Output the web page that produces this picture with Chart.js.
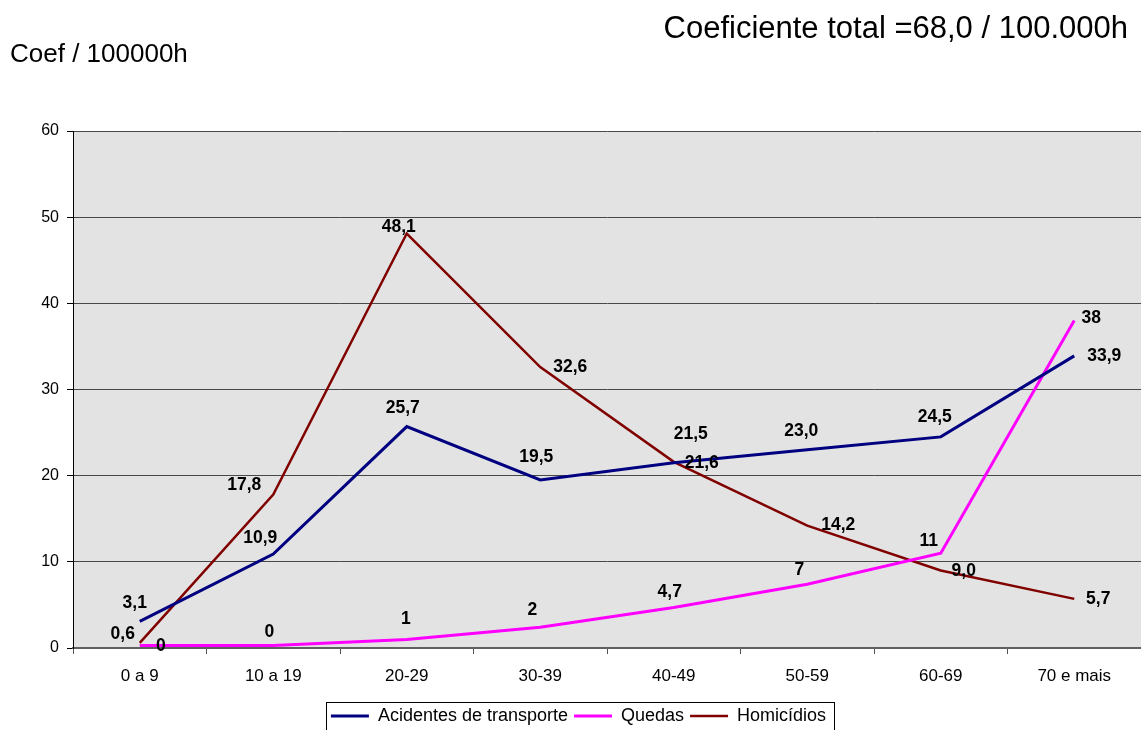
<!DOCTYPE html>
<html>
<head>
<meta charset="utf-8">
<script src="https://cdn.jsdelivr.net/npm/chart.js@4.4.1/dist/chart.umd.min.js"></script>
<style>
  html, body { margin: 0; padding: 0; overflow: hidden; background: #fff; }
  #wrap { width: 1141px; height: 735px; }
</style>
</head>
<body>
<div id="wrap"><canvas id="chart" width="1141" height="735"></canvas></div>
<script>
// data
const categories = ['0 a 9', '10 a 19', '20-29', '30-39', '40-49', '50-59', '60-69', '70 e mais'];
const acidentes = [3.1, 10.9, 25.7, 19.5, 21.5, 23.0, 24.5, 33.9];
const quedas = [0.3, 0.3, 1.0, 2.4, 4.7, 7.4, 11.0, 38.0];
const homicidios = [0.6, 17.8, 48.1, 32.6, 21.6, 14.2, 9.0, 5.7];

// value labels as printed on the chart
const acidentesLabels = ['3,1', '10,9', '25,7', '19,5', '21,5', '23,0', '24,5', '33,9'];
const quedasLabels = ['0', '0', '1', '2', '4,7', '7', '11', '38'];
const homicidiosLabels = ['0,6', '17,8', '48,1', '32,6', '21,6', '14,2', '9,0', '5,7'];

const titleText = 'Coeficiente total =68,0 / 100.000h';
const unitText = 'Coef / 100000h';

// label placement (pixel offsets from the point), style only
const acidentesOffsets = [[-5,-18],[-13,-16],[-4,-18],[-4,-23],[17,-29],[-6,-19],[-6,-20],[30,0]];
const quedasOffsets = [[21,1],[-4,-13],[-1,-20],[-8,-17],[-4,-15],[-8,-14],[-12,-12],[17,-2]];
const homicidiosOffsets = [[-17,-9],[-29,-9],[-8,-6],[30,0],[28,1],[31,0],[23,1],[24,0]];

const FONT = "'Liberation Sans', Arial, Helvetica, sans-serif";
Chart.defaults.font.family = FONT;
Chart.defaults.color = '#000';

const plotBackground = {
  id: 'plotBackground',
  beforeDraw(chart) {
    const { ctx, chartArea: a } = chart;
    ctx.save();
    ctx.fillStyle = '#e3e3e3';
    ctx.fillRect(a.left, a.top, a.right - a.left, a.bottom - a.top);
    ctx.restore();
  }
};

const valueLabels = {
  id: 'valueLabels',
  afterDatasetsDraw(chart) {
    const ctx = chart.ctx;
    ctx.save();
    ctx.font = 'bold 17.5px ' + FONT;
    ctx.fillStyle = '#000';
    ctx.textAlign = 'center';
    ctx.textBaseline = 'middle';
    chart.data.datasets.forEach((ds, i) => {
      const meta = chart.getDatasetMeta(i);
      meta.data.forEach((pt, j) => {
        const off = ds.labelOffsets[j];
        ctx.fillText(ds.valueLabels[j], pt.x + off[0], pt.y + off[1]);
      });
    });
    ctx.restore();
  }
};

const texts = {
  id: 'texts',
  afterLayout(chart) {
    // move legend a little to the right, like the original
    chart.legend.left += 8;
    chart.legend.right += 8;
  },
  afterDraw(chart) {
    const ctx = chart.ctx;
    ctx.save();
    ctx.fillStyle = '#000';
    ctx.textBaseline = 'alphabetic';
    ctx.font = '31px ' + FONT;
    ctx.textAlign = 'right';
    ctx.fillText(titleText, 1128, 38);
    ctx.font = '26px ' + FONT;
    ctx.textAlign = 'left';
    ctx.fillText(unitText, 10, 62);

    // frame round the legend
    const boxes = chart.legend.legendHitBoxes;
    if (boxes && boxes.length) {
      const first = boxes[0], last = boxes[boxes.length - 1];
      const l = first.left - 5, r = last.left + last.width + 8;
      const t = first.top - 5, b = first.top + first.height + 5;
      ctx.strokeStyle = '#000';
      ctx.lineWidth = 1;
      ctx.strokeRect(Math.round(l) + 0.5, Math.round(t) + 0.5, Math.round(r - l), Math.round(b - t));
    }
    ctx.restore();
  }
};

new Chart(document.getElementById('chart'), {
  type: 'line',
  data: {
    labels: categories,
    datasets: [
      {
        label: 'Acidentes de transporte',
        data: acidentes,
        borderColor: '#000080',
        backgroundColor: '#000080',
        borderWidth: 3,
        pointRadius: 0,
        tension: 0,
        valueLabels: acidentesLabels,
        labelOffsets: acidentesOffsets
      },
      {
        label: 'Quedas',
        data: quedas,
        borderColor: '#ff00ff',
        backgroundColor: '#ff00ff',
        borderWidth: 3,
        pointRadius: 0,
        tension: 0,
        valueLabels: quedasLabels,
        labelOffsets: quedasOffsets
      },
      {
        label: 'Homicídios',
        data: homicidios,
        borderColor: '#800000',
        backgroundColor: '#800000',
        borderWidth: 2.5,
        pointRadius: 0,
        tension: 0,
        valueLabels: homicidiosLabels,
        labelOffsets: homicidiosOffsets
      }
    ]
  },
  options: {
    responsive: false,
    animation: false,
    layout: { padding: { top: 131, left: 0, right: 0, bottom: 0 } },
    plugins: {
      tooltip: { enabled: false },
      title: { display: false },
      legend: {
        position: 'bottom',
        align: 'center',
        labels: {
          usePointStyle: true,
          pointStyle: 'line',
          pointStyleWidth: 38,
          padding: 6,
          color: '#000',
          font: { size: 18 }
        }
      }
    },
    scales: {
      x: {
        offset: true,
        grid: { offset: true, drawOnChartArea: false, drawTicks: true, tickLength: 6, color: '#555' },
        border: { color: '#606060', width: 2 },
        ticks: { font: { size: 17 }, color: '#000', padding: 12, maxRotation: 0, autoSkip: false },
        afterFit(s) { s.height = 53; }
      },
      y: {
        min: 0,
        max: 60,
        ticks: { stepSize: 10, font: { size: 16 }, color: '#000', padding: 8 },
        grid: { color: '#484848', tickColor: '#000', tickLength: 6, lineWidth: 1 },
        border: { color: '#000', width: 1 },
        afterFit(s) { s.width = 73; }
      }
    }
  },
  plugins: [plotBackground, valueLabels, texts]
});
</script>
</body>
</html>
